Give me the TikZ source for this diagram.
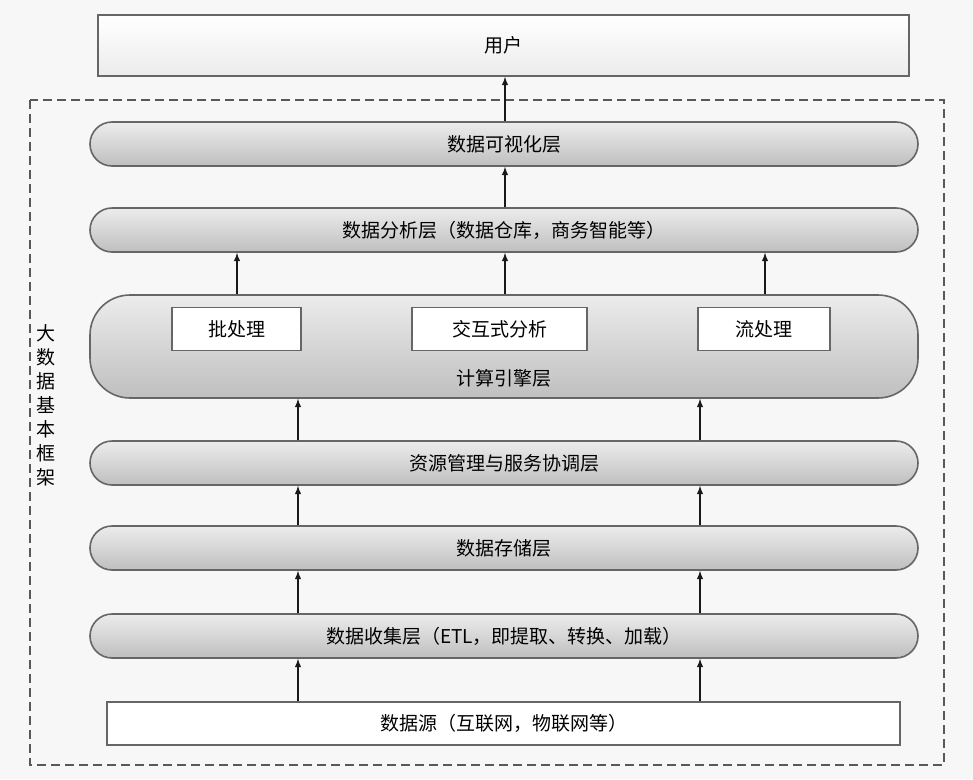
\documentclass[tikz,border=0pt]{standalone}
\usepackage{fontspec}
\setmainfont{Noto Sans CJK SC}
\usetikzlibrary{positioning,calc}

\begin{document}
\begin{tikzpicture}[x=1pt,y=-1pt,line width=1.6pt,font=\fontsize{19}{22}\selectfont]
    % `layer' is used for the rounded layer bars.
    % `plain' is used for the square boxes.
    % `up' is used for the arrows.
    \tikzstyle{layer} = [draw=gray!80!black,top color=gray!15,bottom color=gray!50,rounded corners=22pt,minimum width=828pt,minimum height=44pt,inner sep=0pt]
    \tikzstyle{plain} = [draw=gray!80!black,fill=white,minimum height=43pt,inner sep=0pt]
    \tikzstyle{up} = [-latex,line width=1.8pt,draw=gray!20!black]
    %
    \useasboundingbox (0,0) rectangle (973,779);
    \fill[gray!6] (0,0) rectangle (973,779);
    \draw[gray!70!black,dash pattern=on 9pt off 5pt] (30,100) rectangle (944,765);
    %
    \node[plain,top color=white,bottom color=gray!15,minimum width=811pt,minimum height=61pt] (user) at (503.5,45.5) {用户};
    \node[layer] (vis) at (504,144) {数据可视化层};
    \node[layer] (ana) at (504,230) {数据分析层（数据仓库，商务智能等）};
    \node[layer,minimum height=103pt,rounded corners=40pt] (eng) at (504,346.5) {};
    \node (engtxt) at (504,378) {计算引擎层};
    \node[plain,minimum width=129pt] (batch) at (236.5,329) {批处理};
    \node[plain,minimum width=175pt] (inter) at (499.5,329) {交互式分析};
    \node[plain,minimum width=132pt] (stream) at (764,329) {流处理};
    \node[layer] (res) at (504,463) {资源管理与服务协调层};
    \node[layer] (store) at (504,548) {数据存储层};
    \node[layer] (coll) at (504,636) {数据收集层（ETL，即提取、转换、加载）};
    \node[plain,minimum width=793pt] (src) at (503.5,723.5) {数据源（互联网，物联网等）};
    \node[align=center,font=\fontsize{19}{24}\selectfont] (side) at (46,405) {大\\数\\据\\基\\本\\框\\架};
    %
    % Draw arrows.
    \draw[up] (vis.north -| 505,0) -- (user.south -| 505,0);
    \draw[up] (ana.north -| 505,0) -- (vis.south -| 505,0);
    \foreach \x in {237,505,765}
        \draw[up] (eng.north -| \x,0) -- (ana.south -| \x,0);
    \foreach \x in {298,700} {
        \draw[up] (res.north -| \x,0) -- (eng.south -| \x,0);
        \draw[up] (store.north -| \x,0) -- (res.south -| \x,0);
        \draw[up] (coll.north -| \x,0) -- (store.south -| \x,0);
        \draw[up] (src.north -| \x,0) -- (coll.south -| \x,0);
    }
\end{tikzpicture}
\end{document}
